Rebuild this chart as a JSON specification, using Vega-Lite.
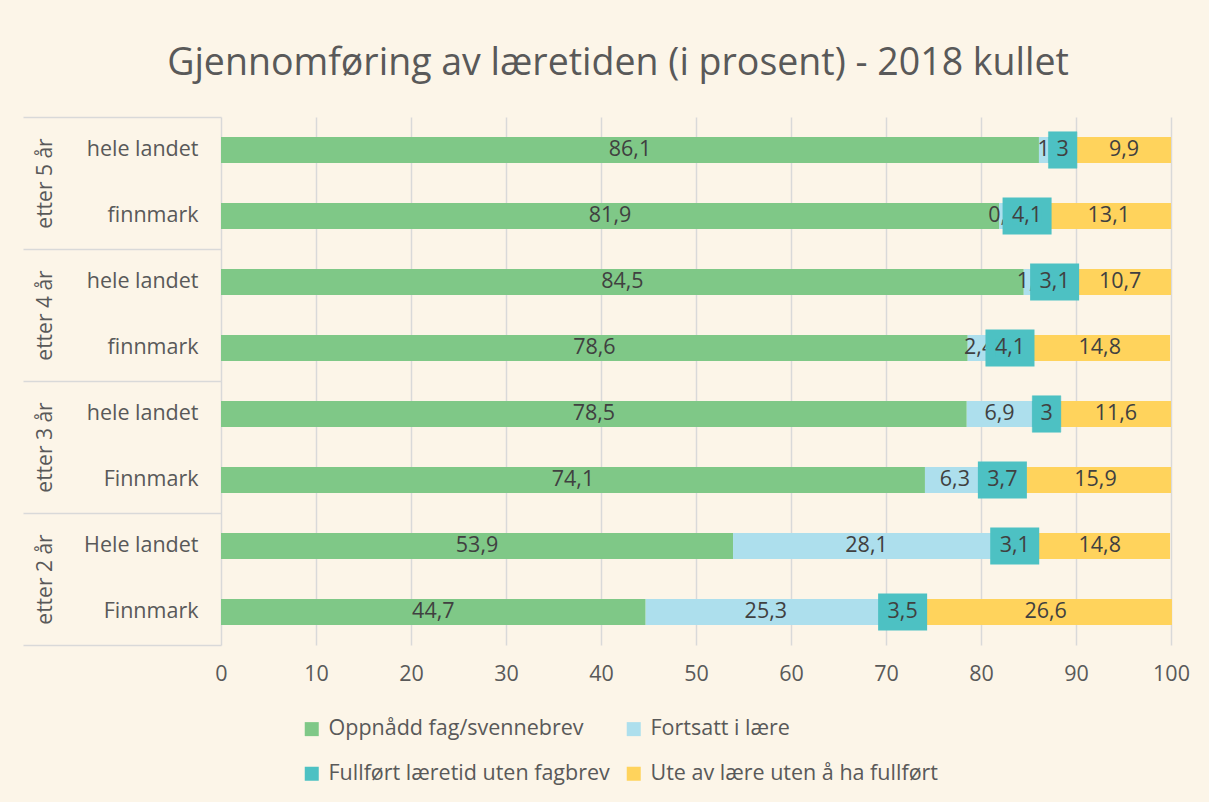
{
  "$schema": "https://vega.github.io/schema/vega-lite/v6.json",
  "autosize": {"type": "none"},
  "width": 950,
  "height": 528,
  "padding": {"left": 221, "top": 117, "right": 38, "bottom": 157},
  "background": "#FCF5E8",
  "title": {
    "text": "Gjennomføring av læretiden (i prosent) - 2018 kullet",
    "fontSize": 37.5,
    "font": "Open Sans",
    "fontWeight": "normal",
    "color": "#595959",
    "anchor": "middle",
    "frame": "group",
    "dx": -78,
    "offset": 34
  },
  "config": {
    "locale": {"number": {"decimal": ",", "thousands": " ", "grouping": [3], "currency": ["", " kr"]}},
    "view": {"stroke": null},
    "font": "Open Sans"
  },
  "data": {
    "values": [
      {"group": "etter 5 år", "row": "5|hele landet", "series": "Oppnådd fag/svennebrev", "k": 1, "value": 86.1},
      {"group": "etter 5 år", "row": "5|hele landet", "series": "Fortsatt i lære", "k": 2, "value": 1},
      {"group": "etter 5 år", "row": "5|hele landet", "series": "Fullført læretid uten fagbrev", "k": 3, "value": 3},
      {"group": "etter 5 år", "row": "5|hele landet", "series": "Ute av lære uten å ha fullført", "k": 4, "value": 9.9},
      {"group": "etter 5 år", "row": "5|finnmark", "series": "Oppnådd fag/svennebrev", "k": 1, "value": 81.9},
      {"group": "etter 5 år", "row": "5|finnmark", "series": "Fortsatt i lære", "k": 2, "value": 0.9},
      {"group": "etter 5 år", "row": "5|finnmark", "series": "Fullført læretid uten fagbrev", "k": 3, "value": 4.1},
      {"group": "etter 5 år", "row": "5|finnmark", "series": "Ute av lære uten å ha fullført", "k": 4, "value": 13.1},
      {"group": "etter 4 år", "row": "4|hele landet", "series": "Oppnådd fag/svennebrev", "k": 1, "value": 84.5},
      {"group": "etter 4 år", "row": "4|hele landet", "series": "Fortsatt i lære", "k": 2, "value": 1.7},
      {"group": "etter 4 år", "row": "4|hele landet", "series": "Fullført læretid uten fagbrev", "k": 3, "value": 3.1},
      {"group": "etter 4 år", "row": "4|hele landet", "series": "Ute av lære uten å ha fullført", "k": 4, "value": 10.7},
      {"group": "etter 4 år", "row": "4|finnmark", "series": "Oppnådd fag/svennebrev", "k": 1, "value": 78.6},
      {"group": "etter 4 år", "row": "4|finnmark", "series": "Fortsatt i lære", "k": 2, "value": 2.4},
      {"group": "etter 4 år", "row": "4|finnmark", "series": "Fullført læretid uten fagbrev", "k": 3, "value": 4.1},
      {"group": "etter 4 år", "row": "4|finnmark", "series": "Ute av lære uten å ha fullført", "k": 4, "value": 14.8},
      {"group": "etter 3 år", "row": "3|hele landet", "series": "Oppnådd fag/svennebrev", "k": 1, "value": 78.5},
      {"group": "etter 3 år", "row": "3|hele landet", "series": "Fortsatt i lære", "k": 2, "value": 6.9},
      {"group": "etter 3 år", "row": "3|hele landet", "series": "Fullført læretid uten fagbrev", "k": 3, "value": 3},
      {"group": "etter 3 år", "row": "3|hele landet", "series": "Ute av lære uten å ha fullført", "k": 4, "value": 11.6},
      {"group": "etter 3 år", "row": "3|Finnmark", "series": "Oppnådd fag/svennebrev", "k": 1, "value": 74.1},
      {"group": "etter 3 år", "row": "3|Finnmark", "series": "Fortsatt i lære", "k": 2, "value": 6.3},
      {"group": "etter 3 år", "row": "3|Finnmark", "series": "Fullført læretid uten fagbrev", "k": 3, "value": 3.7},
      {"group": "etter 3 år", "row": "3|Finnmark", "series": "Ute av lære uten å ha fullført", "k": 4, "value": 15.9},
      {"group": "etter 2 år", "row": "2|Hele landet", "series": "Oppnådd fag/svennebrev", "k": 1, "value": 53.9},
      {"group": "etter 2 år", "row": "2|Hele landet", "series": "Fortsatt i lære", "k": 2, "value": 28.1},
      {"group": "etter 2 år", "row": "2|Hele landet", "series": "Fullført læretid uten fagbrev", "k": 3, "value": 3.1},
      {"group": "etter 2 år", "row": "2|Hele landet", "series": "Ute av lære uten å ha fullført", "k": 4, "value": 14.8},
      {"group": "etter 2 år", "row": "2|Finnmark", "series": "Oppnådd fag/svennebrev", "k": 1, "value": 44.7},
      {"group": "etter 2 år", "row": "2|Finnmark", "series": "Fortsatt i lære", "k": 2, "value": 25.3},
      {"group": "etter 2 år", "row": "2|Finnmark", "series": "Fullført læretid uten fagbrev", "k": 3, "value": 3.5},
      {"group": "etter 2 år", "row": "2|Finnmark", "series": "Ute av lære uten å ha fullført", "k": 4, "value": 26.6}
    ]
  },
  "layer": [
    {
      "transform": [
        {"stack": "value", "groupby": ["row"], "sort": [{"field": "k", "order": "ascending"}], "as": ["x0", "x1"]},
        {"calculate": "(datum.x0 + datum.x1) / 2", "as": "xmid"}
      ],
      "encoding": {
        "y": {
          "field": "row",
          "type": "nominal",
          "sort": null,
          "scale": {"type": "band", "paddingInner": 0.6061, "paddingOuter": 0.303},
          "axis": {
            "orient": "left",
            "domain": false,
            "ticks": false,
            "grid": false,
            "labelPadding": 23,
            "labelFontSize": 21.5,
            "labelColor": "#595959",
            "labelFont": "Open Sans",
            "labelLimit": 300,
            "title": null,
            "labelExpr": "split(datum.label, '|')[1]"
          }
        }
      },
      "layer": [
        {
          "mark": {"type": "bar"},
          "encoding": {
            "x": {
              "field": "x0",
              "type": "quantitative",
              "scale": {"domain": [0, 100], "nice": false},
              "axis": {
                "values": [0, 10, 20, 30, 40, 50, 60, 70, 80, 90, 100],
                "domain": false,
                "ticks": false,
                "grid": true,
                "gridColor": "#D9D9D9",
                "gridWidth": 1.5,
                "labelFontSize": 21.5,
                "labelColor": "#595959",
                "labelPadding": 18,
                "labelFlush": false,
                "labelOverlap": false,
                "title": null
              }
            },
            "x2": {"field": "x1"},
            "color": {
              "field": "series",
              "type": "nominal",
              "scale": {
                "domain": ["Oppnådd fag/svennebrev", "Fortsatt i lære", "Fullført læretid uten fagbrev", "Ute av lære uten å ha fullført"],
                "range": ["#7FC887", "#ADDFED", "#4DC1C3", "#FFD35C"]
              },
              "legend": {
                "orient": "none",
                "legendX": 80,
                "legendY": 601,
                "direction": "horizontal",
                "columns": 2,
                "title": null,
                "symbolType": "square",
                "symbolSize": 196,
                "symbolStrokeWidth": 0,
                "labelFontSize": 21.5,
                "labelColor": "#595959",
                "labelLimit": 400,
                "labelOffset": 6,
                "columnPadding": 13,
                "rowPadding": 22,
                "padding": 0
              }
            }
          }
        },
        {
          "transform": [{"filter": "datum.k != 3"}],
          "mark": {"type": "text", "fontSize": 21.5, "color": "#404040", "align": "center", "baseline": "middle"},
          "encoding": {
            "x": {"field": "xmid", "type": "quantitative"},
            "text": {"field": "value", "type": "quantitative", "format": "~r"}
          }
        },
        {
          "transform": [{"filter": "datum.k == 3"}],
          "mark": {"type": "bar", "fill": "#4DC1C3", "stroke": "#4DC1C3"},
          "encoding": {
            "x": {"field": "x0", "type": "quantitative"},
            "x2": {"field": "x1"},
            "strokeWidth": {
              "condition": {"test": "datum.value == 3", "value": 0.5},
              "field": "value",
              "type": "quantitative",
              "scale": {"domain": [3.1, 4.1], "range": [19.55, 10.05], "zero": false},
              "legend": null
            },
            "size": {
              "condition": {"test": "datum.value == 3", "value": 36.5},
              "field": "value",
              "type": "quantitative",
              "scale": {"domain": [3.1, 4.1], "range": [17.45, 26.95], "zero": false},
              "legend": null
            }
          }
        },
        {
          "transform": [{"filter": "datum.k == 3"}],
          "mark": {"type": "text", "fontSize": 21.5, "color": "#404040", "align": "center", "baseline": "middle"},
          "encoding": {
            "x": {"field": "xmid", "type": "quantitative"},
            "text": {"field": "value", "type": "quantitative", "format": "~r"}
          }
        }
      ]
    },
    {
      "mark": {"type": "point", "opacity": 0},
      "encoding": {
        "y": {
          "field": "group",
          "type": "nominal",
          "sort": null,
          "scale": {"type": "band", "paddingInner": 0, "paddingOuter": 0},
          "axis": {
            "orient": "left",
            "domain": false,
            "ticks": true,
            "tickBand": "extent",
            "tickSize": 198,
            "tickColor": "#D9D9D9",
            "tickWidth": 1.5,
            "grid": false,
            "labelAngle": 270,
            "labelAlign": "center",
            "labelBaseline": "middle",
            "labelPadding": -22,
            "labelFontSize": 21,
            "labelColor": "#595959",
            "title": null
          }
        },
        "x": {"datum": 0, "type": "quantitative"}
      }
    }
  ],
  "resolve": {"scale": {"y": "independent"}, "axis": {"y": "independent"}}
}
